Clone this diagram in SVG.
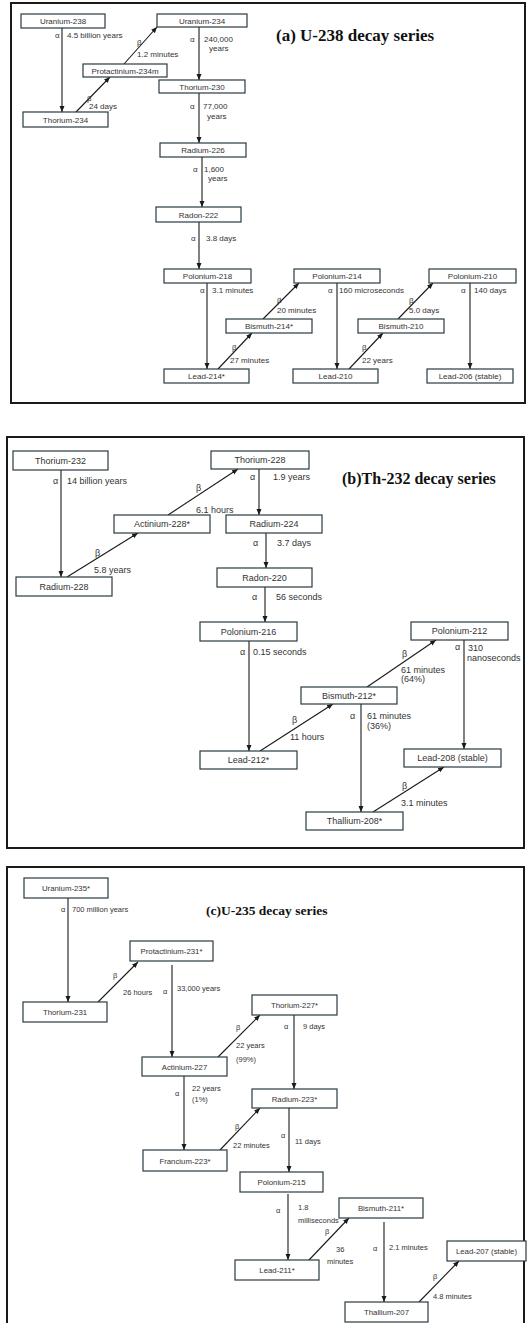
<svg xmlns="http://www.w3.org/2000/svg" width="527" height="1323" viewBox="0 0 527 1323">
<defs>
<marker id="ah" markerUnits="userSpaceOnUse" markerWidth="7" markerHeight="6" refX="6" refY="2.5" orient="auto">
<path d="M0,0 L6,2.5 L0,5 z" fill="#1a1a1a"/>
</marker>
<style>
.frame{fill:none;stroke:#1a1a1a;stroke-width:2}
.node rect{fill:#fff;stroke:#2a3a40;stroke-width:1.2}
.node text{font-family:"Liberation Sans",Arial,sans-serif;fill:#333;text-anchor:middle}
.a text{font-size:8px}.b text{font-size:9px}.c text{font-size:7.8px}
.conn line{stroke:#1a1a1a;stroke-width:1.1;marker-end:url(#ah)}
.lbl text{font-family:"Liberation Sans",Arial,sans-serif;fill:#333}
.la{font-size:8px}.lb{font-size:9px}.lc{font-size:7.5px}
.title{font-family:"Liberation Serif","Times New Roman",serif;font-weight:bold;fill:#111}
</style>
</defs>
<rect width="527" height="1323" fill="#fff"/>
<rect class="frame" x="11" y="3" width="514" height="400"/>
<rect class="frame" x="7" y="437" width="517" height="411"/>
<rect class="frame" x="7" y="867" width="517" height="470"/>
<text class="title" x="276" y="41" font-size="17">(a) U-238 decay series</text>
<text class="title" x="342" y="484" font-size="16">(b)Th-232 decay series</text>
<text class="title" x="206" y="915" font-size="13.5">(c)U-235 decay series</text>

<g id="connectors" class="conn">
<line x1="62" y1="28" x2="62" y2="112"/>
<line x1="76" y1="112" x2="110" y2="77"/>
<line x1="124" y1="64" x2="157" y2="27"/>
<line x1="199" y1="27" x2="199" y2="80"/>
<line x1="199" y1="93" x2="199" y2="143"/>
<line x1="202" y1="157" x2="202" y2="207"/>
<line x1="199" y1="222" x2="199" y2="269"/>
<line x1="207" y1="283" x2="207" y2="369"/>
<line x1="218" y1="369" x2="252" y2="333"/>
<line x1="263" y1="319" x2="299" y2="283"/>
<line x1="337" y1="283" x2="337" y2="369"/>
<line x1="349" y1="369" x2="383" y2="333"/>
<line x1="398" y1="319" x2="433" y2="283"/>
<line x1="470" y1="283" x2="470" y2="369"/>

<line x1="61" y1="470" x2="61" y2="577"/>
<line x1="67" y1="577" x2="138" y2="533"/>
<line x1="168" y1="515" x2="238" y2="469"/>
<line x1="259" y1="469" x2="259" y2="515"/>
<line x1="266" y1="533" x2="266" y2="568"/>
<line x1="265" y1="587" x2="265" y2="622"/>
<line x1="249" y1="641" x2="249" y2="751"/>
<line x1="260" y1="751" x2="333" y2="704"/>
<line x1="367" y1="687" x2="436" y2="640"/>
<line x1="464" y1="640" x2="464" y2="749"/>
<line x1="361" y1="704" x2="361" y2="812"/>
<line x1="373" y1="812" x2="444" y2="767"/>

<line x1="68" y1="898" x2="68" y2="1002"/>
<line x1="98" y1="1002" x2="138" y2="962"/>
<line x1="172" y1="965" x2="172" y2="1057"/>
<line x1="218" y1="1057" x2="260" y2="1015"/>
<line x1="294" y1="1015" x2="294" y2="1089"/>
<line x1="184" y1="1076" x2="184" y2="1150"/>
<line x1="220" y1="1150" x2="260" y2="1108"/>
<line x1="289" y1="1108" x2="289" y2="1172"/>
<line x1="288" y1="1194" x2="288" y2="1260"/>
<line x1="309" y1="1260" x2="349" y2="1218"/>
<line x1="384" y1="1222" x2="384" y2="1302"/>
<line x1="419" y1="1302" x2="459" y2="1261"/>
</g>

<g class="a">
<g id="u238" class="node"><rect x="21" y="14" width="84" height="14"/><text x="63" y="24">Uranium-238</text></g>
<g id="u234" class="node"><rect x="157" y="14" width="90" height="13"/><text x="202" y="23.5">Uranium-234</text></g>
<g id="pa234m" class="node"><rect x="83" y="64" width="84" height="13"/><text x="125" y="73.5">Protactinium-234m</text></g>
<g id="th230" class="node"><rect x="159" y="80" width="86" height="13"/><text x="202" y="89.5">Thorium-230</text></g>
<g id="th234" class="node"><rect x="23" y="112" width="85" height="15"/><text x="65.5" y="122.5">Thorium-234</text></g>
<g id="ra226" class="node"><rect x="160" y="143" width="86" height="14"/><text x="203" y="153">Radium-226</text></g>
<g id="rn222" class="node"><rect x="156" y="207" width="85" height="15"/><text x="198.5" y="217.5">Radon-222</text></g>
<g id="po218" class="node"><rect x="164" y="269" width="87" height="14"/><text x="207.5" y="279">Polonium-218</text></g>
<g id="bi214" class="node"><rect x="226" y="319" width="86" height="14"/><text x="269" y="329">Bismuth-214*</text></g>
<g id="pb214" class="node"><rect x="164" y="369" width="85" height="14"/><text x="206.5" y="379">Lead-214*</text></g>
<g id="po214" class="node"><rect x="294" y="269" width="86" height="14"/><text x="337" y="279">Polonium-214</text></g>
<g id="pb210" class="node"><rect x="293" y="369" width="85" height="14"/><text x="335.5" y="379">Lead-210</text></g>
<g id="bi210" class="node"><rect x="358" y="319" width="86" height="14"/><text x="401" y="329">Bismuth-210</text></g>
<g id="po210" class="node"><rect x="429" y="269" width="87" height="14"/><text x="472.5" y="279">Polonium-210</text></g>
<g id="pb206" class="node"><rect x="427" y="369" width="86" height="14"/><text x="470" y="379">Lead-206 (stable)</text></g>
</g>

<g class="b">
<g id="th232" class="node"><rect x="13" y="451" width="95" height="19"/><text x="60.5" y="463.5">Thorium-232</text></g>
<g id="th228" class="node"><rect x="211" y="451" width="98" height="18"/><text x="260" y="463">Thorium-228</text></g>
<g id="ac228" class="node"><rect x="114" y="515" width="96" height="18"/><text x="162" y="527">Actinium-228*</text></g>
<g id="ra224" class="node"><rect x="226" y="515" width="96" height="18"/><text x="274" y="527">Radium-224</text></g>
<g id="ra228" class="node"><rect x="16" y="577" width="96" height="19"/><text x="64" y="589.5">Radium-228</text></g>
<g id="rn220" class="node"><rect x="217" y="568" width="95" height="19"/><text x="264.5" y="580.5">Radon-220</text></g>
<g id="po216" class="node"><rect x="200" y="622" width="97" height="19"/><text x="248.5" y="634.5">Polonium-216</text></g>
<g id="po212" class="node"><rect x="411" y="622" width="97" height="18"/><text x="459.5" y="634">Polonium-212</text></g>
<g id="bi212" class="node"><rect x="301" y="687" width="96" height="17"/><text x="349" y="698.5">Bismuth-212*</text></g>
<g id="pb212" class="node"><rect x="200" y="751" width="97" height="18"/><text x="248.5" y="763">Lead-212*</text></g>
<g id="pb208" class="node"><rect x="404" y="749" width="97" height="18"/><text x="452.5" y="761">Lead-208 (stable)</text></g>
<g id="tl208" class="node"><rect x="306" y="812" width="97" height="18"/><text x="354.5" y="824">Thallium-208*</text></g>
</g>

<g class="c">
<g id="u235" class="node"><rect x="24" y="878" width="84" height="20"/><text x="66" y="891">Uranium-235*</text></g>
<g id="pa231" class="node"><rect x="130" y="941" width="83" height="20"/><text x="171.5" y="954">Protactinium-231*</text></g>
<g id="th231" class="node"><rect x="23" y="1002" width="84" height="20"/><text x="65" y="1015">Thorium-231</text></g>
<g id="th227" class="node"><rect x="252" y="995" width="85" height="20"/><text x="294.5" y="1008">Thorium-227*</text></g>
<g id="ac227" class="node"><rect x="142" y="1057" width="85" height="19"/><text x="184.5" y="1069.5">Actinium-227</text></g>
<g id="ra223" class="node"><rect x="252" y="1089" width="85" height="19"/><text x="294.5" y="1101.5">Radium-223*</text></g>
<g id="fr223" class="node"><rect x="143" y="1150" width="84" height="21"/><text x="185" y="1163.5">Francium-223*</text></g>
<g id="po215" class="node"><rect x="240" y="1172" width="83" height="20"/><text x="281.5" y="1185">Polonium-215</text></g>
<g id="bi211" class="node"><rect x="339" y="1198" width="84" height="20"/><text x="381" y="1211">Bismuth-211*</text></g>
<g id="pb211" class="node"><rect x="235" y="1260" width="84" height="20"/><text x="277" y="1273">Lead-211*</text></g>
<g id="pb207" class="node"><rect x="447" y="1241" width="79" height="20"/><text x="486.5" y="1254">Lead-207 (stable)</text></g>
<g id="tl207" class="node"><rect x="345" y="1302" width="83" height="20"/><text x="386.5" y="1315">Thallium-207</text></g>
</g>

<g id="labels" class="lbl">
<g class="la">
<text x="55" y="38">α</text><text x="67" y="38">4.5 billion years</text>
<text x="87" y="101">β</text><text x="89" y="109">24 days</text>
<text x="137" y="45">β</text><text x="137" y="57">1.2 minutes</text>
<text x="190" y="42">α</text><text x="204" y="42">240,000</text><text x="209" y="51">years</text>
<text x="190" y="109">α</text><text x="203" y="109">77,000</text><text x="207" y="119">years</text>
<text x="193" y="172">α</text><text x="204" y="172">1,600</text><text x="208" y="181">years</text>
<text x="191" y="241">α</text><text x="206" y="241">3.8 days</text>
<text x="200" y="293">α</text><text x="212" y="293">3.1 minutes</text>
<text x="232" y="350">β</text><text x="230" y="363">27 minutes</text>
<text x="277" y="303">β</text><text x="277" y="313">20 minutes</text>
<text x="328" y="293">α</text><text x="339" y="293">160 microseconds</text>
<text x="362" y="350">β</text><text x="362" y="363">22 years</text>
<text x="409" y="303">β</text><text x="409" y="313">5.0 days</text>
<text x="461" y="293">α</text><text x="474" y="293">140 days</text>
</g>
<g class="lb">
<text x="53" y="484">α</text><text x="67" y="484">14 billion years</text>
<text x="95" y="556">β</text><text x="94" y="573">5.8 years</text>
<text x="196" y="491">β</text><text x="196" y="513">6.1 hours</text>
<text x="250" y="480">α</text><text x="273" y="480">1.9 years</text>
<text x="253" y="546">α</text><text x="277" y="546">3.7 days</text>
<text x="252" y="600">α</text><text x="276" y="600">56 seconds</text>
<text x="240" y="655">α</text><text x="253" y="655">0.15 seconds</text>
<text x="292" y="723">β</text><text x="290" y="740">11 hours</text>
<text x="402" y="657">β</text><text x="401" y="673">61 minutes</text><text x="401" y="682">(64%)</text>
<text x="455" y="650">α</text><text x="468" y="651">310</text><text x="467" y="661">nanoseconds</text>
<text x="350" y="719">α</text><text x="367" y="719">61 minutes</text><text x="367" y="729">(36%)</text>
<text x="402" y="789">β</text><text x="401" y="806">3.1 minutes</text>
</g>
<g class="lc">
<text x="61" y="912">α</text><text x="72" y="912">700 million years</text>
<text x="113" y="978">β</text><text x="123" y="995">26 hours</text>
<text x="163" y="994">α</text><text x="177" y="991">33,000 years</text>
<text x="236" y="1030">β</text><text x="236" y="1048">22 years</text><text x="236" y="1062">(99%)</text>
<text x="284" y="1029">α</text><text x="303" y="1029">9 days</text>
<text x="175" y="1096">α</text><text x="192" y="1091">22 years</text><text x="192" y="1102">(1%)</text>
<text x="235" y="1129">β</text><text x="233" y="1148">22 minutes</text>
<text x="281" y="1138">α</text><text x="295" y="1144">11 days</text>
<text x="276" y="1213">α</text><text x="298" y="1210">1.8</text><text x="298" y="1223">milliseconds</text>
<text x="325" y="1234">β</text><text x="336" y="1252">36</text><text x="327" y="1264">minutes</text>
<text x="373" y="1251">α</text><text x="389" y="1250">2.1 minutes</text>
<text x="433" y="1279">β</text><text x="433" y="1299">4.8 minutes</text>
</g>
</g>
</svg>
